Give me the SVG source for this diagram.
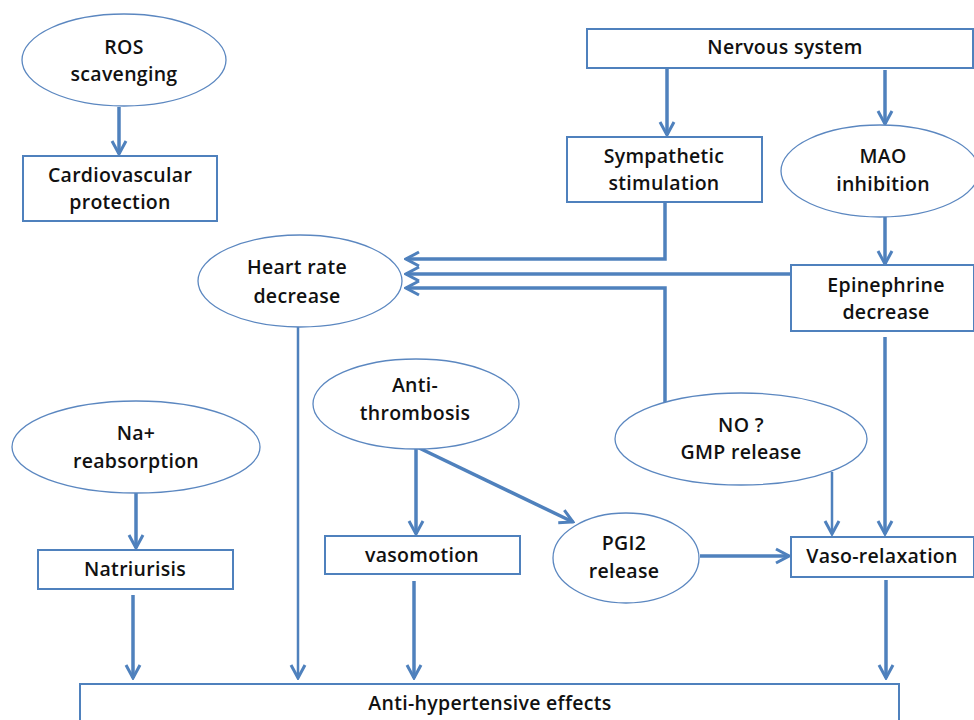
<svg xmlns="http://www.w3.org/2000/svg" width="974" height="720" viewBox="0 0 974 720">
<defs>
<style>
.box{fill:#fff;stroke:#4f81bd;stroke-width:2}
.ell{fill:#fff;stroke:#5b87c0;stroke-width:1.3}
.t{font-family:"Open Sans","Liberation Sans",sans-serif;font-weight:600;font-size:19.5px;letter-spacing:0.3px;fill:#111;text-anchor:middle}
.c{fill:none;stroke:#4f81bd;stroke-width:3.5}
.c2{fill:none;stroke:#4f81bd;stroke-width:2.5}
</style>
<marker id="ahb" viewBox="0 0 18 18" refX="16" refY="9" markerWidth="18" markerHeight="18" markerUnits="userSpaceOnUse" orient="auto">
<polyline points="3,2 16,9 3,16" fill="none" stroke="#4f81bd" stroke-width="3"/>
</marker>
</defs>
<rect width="974" height="720" fill="#fff"/>
<g id="connectors">
<line class="c" x1="119" y1="107" x2="119" y2="154" marker-end="url(#ahb)"/>
<line class="c" x1="667" y1="68" x2="667" y2="135" marker-end="url(#ahb)"/>
<line class="c" x1="885" y1="70" x2="885" y2="124" marker-end="url(#ahb)"/>
<line class="c" x1="885" y1="217" x2="885" y2="264" marker-end="url(#ahb)"/>
<polyline class="c" points="665,203 665,259 406,259" marker-end="url(#ahb)"/>
<line class="c" x1="790" y1="274" x2="406" y2="274" marker-end="url(#ahb)"/>
<polyline class="c" points="665,402 665,288 406,288" marker-end="url(#ahb)"/>
<line class="c" x1="885" y1="337" x2="885" y2="534" marker-end="url(#ahb)"/>
<line class="c2" x1="832" y1="472" x2="832" y2="534" marker-end="url(#ahb)"/>
<line class="c" x1="700" y1="556" x2="789" y2="556" marker-end="url(#ahb)"/>
<line class="c" x1="417" y1="447" x2="573" y2="522" marker-end="url(#ahb)"/>
<line class="c" x1="416" y1="447" x2="416" y2="534" marker-end="url(#ahb)"/>
<line class="c" x1="136" y1="493" x2="136" y2="548" marker-end="url(#ahb)"/>
<line class="c" x1="133" y1="595" x2="133" y2="678" marker-end="url(#ahb)"/>
<line class="c2" x1="298" y1="327" x2="298" y2="678" marker-end="url(#ahb)"/>
<line class="c" x1="414" y1="581" x2="414" y2="678" marker-end="url(#ahb)"/>
<line class="c" x1="886" y1="580" x2="886" y2="678" marker-end="url(#ahb)"/>
</g>
<g id="ros"><ellipse class="ell" cx="124" cy="60" rx="102" ry="46"/><text class="t" x="124" y="54">ROS</text><text class="t" x="124" y="81">scavenging</text></g>
<g id="cardio"><rect class="box" x="23" y="156" width="194" height="65"/><text class="t" x="120" y="182">Cardiovascular</text><text class="t" x="120" y="209">protection</text></g>
<g id="nervous"><rect class="box" x="587" y="29" width="386" height="39"/><text class="t" x="785" y="54">Nervous system</text></g>
<g id="sympathetic"><rect class="box" x="567" y="137" width="195" height="65"/><text class="t" x="664" y="163">Sympathetic</text><text class="t" x="664" y="190">stimulation</text></g>
<g id="mao"><ellipse class="ell" cx="880" cy="171" rx="99" ry="46"/><text class="t" x="883" y="163">MAO</text><text class="t" x="883" y="191">inhibition</text></g>
<g id="heart"><ellipse class="ell" cx="300" cy="281" rx="102" ry="46"/><text class="t" x="297" y="274">Heart rate</text><text class="t" x="297" y="303">decrease</text></g>
<g id="epinephrine"><rect class="box" x="791" y="265" width="183" height="66"/><text class="t" x="886" y="292">Epinephrine</text><text class="t" x="886" y="319">decrease</text></g>
<g id="antithrombosis"><ellipse class="ell" cx="416" cy="404" rx="103" ry="45"/><text class="t" x="415" y="392">Anti-</text><text class="t" x="415" y="420">thrombosis</text></g>
<g id="no"><ellipse class="ell" cx="741" cy="439" rx="126" ry="46"/><text class="t" x="741" y="432">NO ?</text><text class="t" x="741" y="459">GMP release</text></g>
<g id="na"><ellipse class="ell" cx="136" cy="447" rx="124" ry="46"/><text class="t" x="136" y="440">Na+</text><text class="t" x="136" y="468">reabsorption</text></g>
<g id="natriurisis"><rect class="box" x="38" y="550" width="195" height="39"/><text class="t" x="135" y="576">Natriurisis</text></g>
<g id="vasomotion"><rect class="box" x="325" y="536" width="195" height="38"/><text class="t" x="422" y="562">vasomotion</text></g>
<g id="pgi2"><ellipse class="ell" cx="626" cy="558" rx="73" ry="45"/><text class="t" x="624" y="550">PGI2</text><text class="t" x="624" y="578">release</text></g>
<g id="vasorelax"><rect class="box" x="791" y="537" width="183" height="40"/><text class="t" x="882" y="563">Vaso-relaxation</text></g>
<g id="antihyp"><rect class="box" x="80" y="684" width="819" height="40"/><text class="t" x="490" y="710">Anti-hypertensive effects</text></g>
</svg>
